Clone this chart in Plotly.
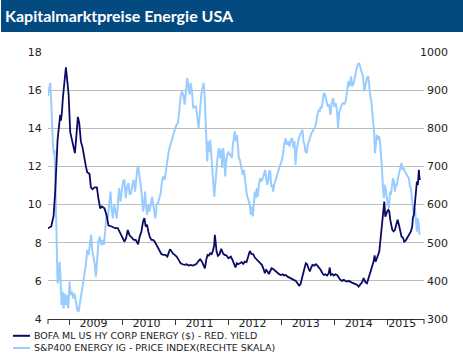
import numpy as np
import pandas as pd
import plotly.graph_objects as go

# ---------------- data (decimal years) ----------------
bofa_t = [2008.593, 2008.656, 2008.700, 2008.731, 2008.775, 2008.806, 2008.825, 2008.838, 2008.856, 2008.875,
          2008.900, 2008.932, 2008.957, 2008.982, 2009.013, 2009.045, 2009.076, 2009.101, 2009.126, 2009.157,
          2009.182, 2009.214, 2009.245, 2009.276, 2009.308, 2009.333, 2009.377, 2009.402, 2009.433, 2009.471,
          2009.515, 2009.546, 2009.577, 2009.609, 2009.659, 2009.703, 2009.734, 2009.797, 2009.859, 2009.910,
          2009.954, 2009.997, 2010.035, 2010.066, 2010.098, 2010.129, 2010.173, 2010.211, 2010.248,
          2010.292, 2010.323, 2010.355, 2010.386, 2010.411, 2010.436, 2010.461, 2010.486, 2010.511, 2010.543,
          2010.574, 2010.605, 2010.637, 2010.668, 2010.700, 2010.731, 2010.768, 2010.806, 2010.844, 2010.869,
          2010.894, 2010.919, 2010.944, 2010.982, 2011.019, 2011.057, 2011.094, 2011.132, 2011.170, 2011.207,
          2011.245, 2011.283, 2011.320, 2011.358, 2011.395, 2011.433, 2011.464, 2011.496, 2011.527, 2011.552,
          2011.577, 2011.602, 2011.627, 2011.652, 2011.678, 2011.703, 2011.728, 2011.740, 2011.753, 2011.772,
          2011.797, 2011.828, 2011.859, 2011.891, 2011.922, 2011.960, 2011.997,
          2012.041, 2012.072, 2012.104, 2012.129, 2012.154, 2012.179, 2012.210, 2012.242, 2012.273, 2012.304,
          2012.336, 2012.367, 2012.398, 2012.430, 2012.461, 2012.492, 2012.530, 2012.561, 2012.593, 2012.624,
          2012.655, 2012.680, 2012.706, 2012.731, 2012.756, 2012.781, 2012.806, 2012.831, 2012.856, 2012.887,
          2012.919, 2012.950, 2012.981, 2013.013, 2013.044, 2013.075, 2013.107, 2013.138, 2013.170, 2013.201,
          2013.232, 2013.264, 2013.295, 2013.326, 2013.351, 2013.376, 2013.401, 2013.427, 2013.452, 2013.477,
          2013.502, 2013.527, 2013.552, 2013.577, 2013.609, 2013.640, 2013.671, 2013.703, 2013.734, 2013.765,
          2013.790, 2013.821, 2013.853, 2013.884, 2013.903, 2013.922, 2013.953, 2013.978, 2014.009, 2014.041,
          2014.072, 2014.103, 2014.135, 2014.166, 2014.198, 2014.229, 2014.260, 2014.292, 2014.323, 2014.354,
          2014.386, 2014.417, 2014.448, 2014.480, 2014.511, 2014.542, 2014.574, 2014.605, 2014.636, 2014.668,
          2014.699, 2014.730, 2014.749, 2014.768, 2014.793, 2014.818, 2014.837, 2014.856, 2014.875, 2014.893,
          2014.912, 2014.931, 2014.950, 2014.969, 2014.987, 2015.006, 2015.025, 2015.044, 2015.063, 2015.082,
          2015.107, 2015.132, 2015.157, 2015.182, 2015.207, 2015.232, 2015.257, 2015.282, 2015.307, 2015.332,
          2015.357, 2015.382, 2015.408, 2015.433, 2015.458, 2015.470, 2015.489, 2015.508, 2015.527, 2015.546,
          2015.564, 2015.583, 2015.596, 2015.608]
bofa_yield = [8.76, 8.85, 9.4, 10.7, 13.4, 14.4, 14.7, 14.4, 14.8, 15.6,
              16.5, 17.2, 16.5, 15.8, 13.8, 13.4, 13.0, 12.7, 13.5, 14.6,
              14.3, 13.3, 13.0, 12.4, 12.0, 11.7, 11.6, 10.9, 10.8, 10.9,
              10.9, 10.3, 9.8, 9.9, 9.8, 9.4, 8.9, 8.85, 8.76, 8.76,
              8.5, 8.24, 8.06, 8.24, 8.67, 8.4, 8.24, 8.15, 8.15,
              7.92, 8.32, 8.59, 9.11, 9.29, 8.85, 8.94, 8.59, 8.32, 8.15,
              8.15, 8.06, 7.89, 7.71, 7.54, 7.41, 7.36, 7.36, 7.27, 7.45,
              7.66, 7.57, 7.45, 7.36, 7.27, 7.10, 6.92, 6.87, 6.84, 6.87,
              6.80, 6.84, 6.80, 6.84, 6.89, 7.05, 7.13, 7.01, 6.84, 6.66,
              7.10, 7.36, 7.33, 7.45, 7.40, 7.57, 7.89, 8.41, 8.06, 7.54,
              7.31, 7.40, 7.68, 7.45, 7.36, 7.33, 7.19,
              7.27, 7.10, 6.92, 6.70, 6.92, 6.87, 6.92, 6.98, 6.89, 7.01,
              6.98, 7.27, 7.57, 7.40, 7.40, 7.22, 7.10, 7.05, 6.92, 6.84,
              6.63, 6.40, 6.57, 6.49, 6.35, 6.54, 6.66, 6.63, 6.57, 6.52,
              6.40, 6.35, 6.31, 6.35, 6.28, 6.31, 6.22, 6.17, 6.14, 6.08,
              6.05, 6.00, 5.87, 5.75, 5.82, 6.14, 6.40, 6.66, 6.92, 6.87,
              6.66, 6.49, 6.70, 6.84, 6.80, 6.87, 6.80, 6.70, 6.57, 6.40,
              6.31, 6.35, 6.28, 6.40, 6.70, 6.31, 6.35, 6.28, 6.35, 6.31,
              6.17, 6.05, 6.00, 6.05, 6.00, 5.96, 6.00, 5.93, 5.91, 5.87,
              5.84, 5.79, 5.70, 5.79, 5.93, 6.14, 5.93, 5.87, 6.14, 6.40,
              6.66, 7.01, 7.33, 7.01, 7.19, 7.36, 7.54, 8.06, 8.59, 9.29,
              9.81, 10.16, 9.37, 9.55, 9.64, 9.72, 9.64, 9.20, 8.94, 8.67,
              8.59, 8.67, 8.94, 9.20, 8.94, 8.59, 8.32, 8.27, 8.06, 8.10,
              8.24, 8.32, 8.50, 8.59, 8.85, 9.29, 9.46, 10.16, 10.77, 11.21,
              11.03, 11.82, 11.38, 11.30]

sp_t = [2008.593, 2008.618, 2008.637, 2008.656, 2008.668, 2008.687, 2008.706, 2008.719, 2008.737, 2008.756,
        2008.775, 2008.794, 2008.813, 2008.831, 2008.850, 2008.869, 2008.888, 2008.907, 2008.932, 2008.957,
        2008.976, 2009.001, 2009.019, 2009.045, 2009.070, 2009.095, 2009.120, 2009.145, 2009.170, 2009.195,
        2009.220, 2009.251, 2009.283, 2009.308, 2009.333, 2009.358, 2009.383, 2009.408, 2009.427, 2009.452,
        2009.477, 2009.496, 2009.521, 2009.546, 2009.571, 2009.596, 2009.621, 2009.646, 2009.672, 2009.697,
        2009.722, 2009.747, 2009.772, 2009.791, 2009.816, 2009.841, 2009.866, 2009.891, 2009.916, 2009.935,
        2009.960, 2009.985, 2010.010, 2010.035, 2010.060, 2010.085, 2010.110, 2010.135, 2010.160, 2010.186,
        2010.211, 2010.236, 2010.261, 2010.280,
        2010.292, 2010.317, 2010.342, 2010.367, 2010.386, 2010.405, 2010.424, 2010.442, 2010.461, 2010.486,
        2010.505, 2010.530, 2010.555, 2010.574, 2010.593, 2010.618, 2010.643, 2010.668, 2010.693, 2010.718,
        2010.743, 2010.768, 2010.794, 2010.819, 2010.844, 2010.869, 2010.894, 2010.919, 2010.944, 2010.969,
        2010.994, 2011.019, 2011.044, 2011.069, 2011.094, 2011.120, 2011.145, 2011.170, 2011.195, 2011.220,
        2011.245, 2011.264, 2011.283, 2011.308, 2011.333, 2011.358, 2011.383, 2011.408, 2011.433, 2011.458,
        2011.483, 2011.508, 2011.527, 2011.546, 2011.565, 2011.584, 2011.596, 2011.615, 2011.634, 2011.652,
        2011.671, 2011.690, 2011.709, 2011.728, 2011.747, 2011.765, 2011.784, 2011.803, 2011.822, 2011.841,
        2011.859, 2011.878, 2011.897, 2011.916, 2011.935, 2011.953, 2011.972, 2011.997, 2012.022,
        2012.041, 2012.060, 2012.079, 2012.097, 2012.116, 2012.135, 2012.154, 2012.173, 2012.191, 2012.210,
        2012.229, 2012.248, 2012.267, 2012.286, 2012.304, 2012.323, 2012.342, 2012.361, 2012.380, 2012.398,
        2012.417, 2012.436, 2012.455, 2012.474, 2012.492, 2012.511, 2012.530, 2012.549, 2012.568, 2012.593,
        2012.618, 2012.643, 2012.668, 2012.687, 2012.706, 2012.724, 2012.743, 2012.762, 2012.781, 2012.800,
        2012.818, 2012.837, 2012.856, 2012.875, 2012.894, 2012.919, 2012.944, 2012.969, 2012.994, 2013.019,
        2013.044, 2013.069, 2013.094, 2013.119, 2013.145, 2013.170, 2013.195, 2013.220, 2013.239, 2013.258,
        2013.276, 2013.295, 2013.320, 2013.345, 2013.370, 2013.389, 2013.408, 2013.427, 2013.445, 2013.470,
        2013.489, 2013.508, 2013.533, 2013.558, 2013.583, 2013.609, 2013.634, 2013.659, 2013.677, 2013.696,
        2013.715, 2013.734, 2013.753, 2013.771,
        2013.790, 2013.815, 2013.840, 2013.865, 2013.890, 2013.915, 2013.940, 2013.966, 2013.991, 2014.016,
        2014.041, 2014.060, 2014.078, 2014.103, 2014.129, 2014.154, 2014.179, 2014.204, 2014.229, 2014.254,
        2014.279, 2014.304, 2014.329, 2014.354, 2014.379, 2014.404, 2014.429, 2014.455, 2014.480, 2014.505,
        2014.530, 2014.555, 2014.580, 2014.605, 2014.630, 2014.649, 2014.668, 2014.687, 2014.705, 2014.724,
        2014.743, 2014.755, 2014.774, 2014.793, 2014.812, 2014.831, 2014.850, 2014.868, 2014.887, 2014.906,
        2014.925, 2014.944, 2014.962, 2014.981, 2015.000, 2015.019, 2015.038, 2015.056, 2015.075, 2015.094,
        2015.113, 2015.132, 2015.151, 2015.169, 2015.188, 2015.213, 2015.238, 2015.257, 2015.276, 2015.295,
        2015.320, 2015.345, 2015.370, 2015.395, 2015.414, 2015.433, 2015.451, 2015.470, 2015.489, 2015.508,
        2015.527, 2015.546, 2015.564, 2015.583, 2015.596]
sp_index = [884, 910, 919, 870, 800, 757, 730, 743, 643, 494,
            394, 402, 450, 407, 337, 372, 328, 367, 337, 363,
            328, 398, 363, 372, 354, 367, 346, 324, 319, 341,
            354, 389, 415, 442, 481, 468, 494, 521, 481, 459,
            442, 411, 459, 503, 516, 494, 507, 494, 529, 577,
            564, 604, 634, 591, 564, 599, 582, 564, 612, 643,
            608, 634, 661, 665, 617, 647, 656, 626, 630, 652,
            665, 634, 678, 696,
            700, 678, 652, 617, 582, 599, 634, 599, 573, 599,
            582, 599, 621, 604, 586, 564, 599, 604, 617, 630,
            661, 674, 665, 691, 722, 739, 752, 766, 774, 787,
            801, 809, 814, 844, 884, 897, 888, 862, 910, 932,
            906, 888, 919, 897, 853, 857, 857, 831, 801, 844,
            888, 906, 919, 888, 827, 757, 713, 766, 739, 770,
            730, 713, 669, 621, 652, 696, 713, 739, 748, 722,
            744, 696, 748, 722, 674, 713, 730, 739, 730,
            730, 722, 757, 783, 792, 766, 783, 757, 722, 717,
            704, 687, 678, 691, 669, 652, 626, 617, 608, 599,
            573, 595, 569, 599, 634, 617, 643, 621, 652, 669,
            661, 669, 682, 691, 669, 652, 661, 687, 689, 647,
            652, 634, 652, 661, 669, 687, 696, 704, 713, 730,
            757, 774, 757, 766, 752, 770, 774, 748, 766, 704,
            739, 757, 774, 783, 792, 796, 766, 757, 739, 735,
            757, 766, 774, 787, 792, 801, 805, 827, 840, 849,
            844, 857, 853, 871,
            892, 888, 871, 857, 862, 836, 866, 879, 857, 866,
            844, 801, 840, 853, 862, 866, 864, 871, 906, 923,
            910, 936, 910, 919, 936, 949, 967, 971, 958, 949,
            936, 897, 919, 932, 936, 901, 884, 871, 844, 809,
            783, 735, 770, 783, 770, 779, 766, 739, 696, 643,
            617, 652, 630, 612, 599, 591, 634, 626, 643, 669,
            661, 634, 652, 652, 669, 682, 700, 709, 691, 696,
            687, 682, 674, 669, 647, 643, 617, 591, 573, 591,
            556, 529, 564, 547, 521]

year_labels = ["2009", "2010", "2011", "2012", "2013", "2014", "2015"]
year_label_pos = [2009.45, 2010.45, 2011.45, 2012.45, 2013.45, 2014.45, 2015.27]
left_ticks = [4, 6, 8, 10, 12, 14, 16, 18]
right_ticks = [300, 400, 500, 600, 700, 800, 900, 1000]
title_text = "Kapitalmarktpreise Energie USA"
name_bofa = "BOFA ML US HY CORP ENERGY ($) - RED. YIELD"
name_sp = "S&P400 ENERGY IG - PRICE INDEX(RECHTE SKALA)"


def to_date(y):
    yr = int(np.floor(y))
    start = pd.Timestamp(yr, 1, 1)
    end = pd.Timestamp(yr + 1, 1, 1)
    return start + (end - start) * (y - yr)


# ---------------- layout geometry ----------------
W, H = 463, 355
L, R, T, B = 48, 39, 52, 36
PW, PH = W - L - R, H - T - B


def px(x):
    return (x - L) / PW


def py(y):
    return (H - B - y) / PH


DARK = "#0B0B66"
LIGHT = "#99CCFF"
TXT = "#222222"
FONT = "DejaVu Sans"
LEG_SIZE = 9.5

fig = go.Figure()
fig.add_trace(go.Scatter(x=[to_date(t) for t in sp_t], y=sp_index, mode="lines", name=name_sp,
                         line=dict(color=LIGHT, width=2), yaxis="y", showlegend=False))
fig.add_trace(go.Scatter(x=[to_date(t) for t in bofa_t], y=bofa_yield, mode="lines", name=name_bofa,
                         line=dict(color=DARK, width=1.8), yaxis="y2", showlegend=False))

fig.update_layout(
    width=W, height=H,
    margin=dict(l=L, r=R, t=T, b=B, autoexpand=False),
    paper_bgcolor="white", plot_bgcolor="white",
    font=dict(family=FONT, color=TXT, size=11),
    xaxis=dict(
        type="date",
        range=[to_date(2008.595), to_date(2015.68)],
        tickvals=[to_date(v) for v in year_label_pos],
        ticktext=year_labels,
        ticks="", showgrid=False, zeroline=False,
        showline=True, linecolor="#333333", linewidth=1,
        tickfont=dict(size=11, color=TXT),
        ticklabelstandoff=-6,
        minor=dict(ticks="outside", ticklen=5, tickcolor="#333333", tickwidth=1,
                   dtick="M12", tick0="2009-01-01", showgrid=False),
    ),
    yaxis=dict(
        side="right", range=[300, 1000],
        tickvals=right_ticks,
        ticktext=[("\u2007" if v < 1000 else "") + str(v) for v in right_ticks],
        showgrid=True, gridcolor="#BDBDBD", gridwidth=1,
        zeroline=False, showline=False, ticks="",
        ticklabelstandoff=-5,
        tickfont=dict(size=11, color=TXT),
    ),
    yaxis2=dict(
        side="left", overlaying="y", range=[4, 18],
        tickvals=left_ticks,
        showgrid=False, zeroline=False, showline=False,
        ticks="outside", ticklen=3, tickcolor="rgba(0,0,0,0)",
        tickfont=dict(size=11, color=TXT),
    ),
    shapes=[
        dict(type="rect", xref="paper", yref="paper", x0=px(1), x1=px(W + 2), y0=py(32), y1=py(-2),
             fillcolor="#034A80", line=dict(width=0), layer="above"),
        dict(type="line", xref="paper", yref="paper", x0=0, x1=0, y0=0, y1=py(H - B + 5),
             line=dict(color="#333333", width=1)),
        dict(type="line", xref="paper", yref="paper", x0=1, x1=1, y0=0, y1=py(H - B + 5),
             line=dict(color="#333333", width=1)),
        dict(type="line", xref="paper", yref="paper", x0=px(13), x1=px(30), y0=py(335.8), y1=py(335.8),
             line=dict(color=DARK, width=2)),
        dict(type="line", xref="paper", yref="paper", x0=px(13), x1=px(30), y0=py(348), y1=py(348),
             line=dict(color=LIGHT, width=2)),
    ],
    annotations=[
        dict(text="<b>" + title_text + "</b>", xref="paper", yref="paper", x=px(3), y=py(16),
             xanchor="left", yanchor="middle", showarrow=False,
             font=dict(family="Lato", size=16, color="white")),
        dict(text=name_bofa + "<br>" + name_sp, xref="paper", yref="paper", x=px(32), y=py(341.8),
             xanchor="left", yanchor="middle", align="left", showarrow=False,
             font=dict(family=FONT, size=LEG_SIZE, color=TXT)),
    ],
)

fig.write_html("out.html", config={"displayModeBar": False},
               post_script="document.body.style.margin='0px';document.body.style.overflow='hidden';")
